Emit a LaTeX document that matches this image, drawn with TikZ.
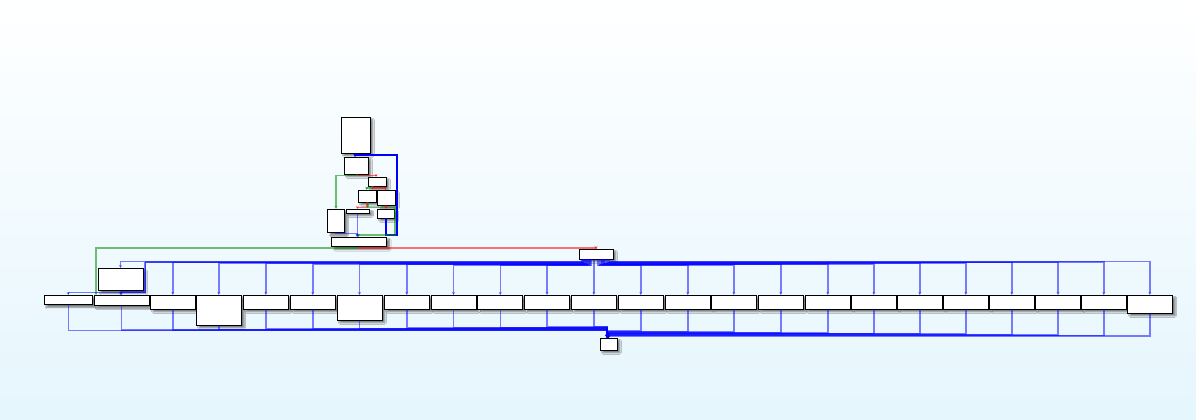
\documentclass[tikz,border=0pt]{standalone}
\usetikzlibrary{arrows.meta,shadows.blur}
\definecolor{ggreen}{RGB}{0,140,0}
\definecolor{bgtop}{RGB}{255,255,255}
\definecolor{bgbot}{RGB}{229,246,253}
\begin{document}
\begin{tikzpicture}[x=1pt,y=-1pt,
  box/.style={draw=black,line width=1pt,fill=white,inner sep=0pt,outer sep=0pt,anchor=north west,
    blur shadow={shadow xshift=2.8pt,shadow yshift=-2.8pt,shadow blur radius=1.5pt,shadow opacity=50}},
  tip/.style={-{Stealth[length=3pt,width=3pt]}},
  eb/.style={draw=blue,opacity=0.5,line width=1.5pt,tip},
  ebs/.style={draw=blue,line width=2pt,tip},
  eg/.style={draw=ggreen,opacity=0.55,line width=1.5pt,tip},
  er/.style={draw=red,opacity=0.55,line width=1.5pt,tip}]
\shade[top color=bgtop,bottom color=bgbot] (0,0) rectangle (1196,420);
\useasboundingbox (0,0) rectangle (1196,420);

% upper cluster
\node[box,minimum width=29pt,minimum height=36pt] (A) at (341,117) {};
\node[box,minimum width=24pt,minimum height=17pt] (B) at (344,157) {};
\node[box,minimum width=18pt,minimum height=9.3pt] (C) at (368,177) {};
\node[box,minimum width=18pt,minimum height=12pt] (D) at (358,190) {};
\node[box,minimum width=17.7pt,minimum height=15.3pt] (E) at (377.3,190) {};
\node[box,minimum width=16.6pt,minimum height=23.3pt] (F) at (327.7,209) {};
\node[box,minimum width=23.3pt,minimum height=4pt] (G) at (346,209) {};
\node[box,minimum width=17pt,minimum height=9pt] (H) at (377.3,209) {};
\node[box,minimum width=55pt,minimum height=9.7pt] (I) at (331.7,237) {};

% dispatcher, left blocks, final block
\node[box,minimum width=34pt,minimum height=10pt] (X) at (579,249) {};
\node[box,minimum width=45pt,minimum height=22.5pt] (J) at (98,268) {};
\node[box,minimum width=48.5pt,minimum height=9.5pt] (b1) at (44,295) {};
\node[box,minimum width=55pt,minimum height=10.3pt] (b2) at (94,295) {};
\foreach \k/\xx/\hh in {3/150.3/14,4/196.3/30,5/243.3/14,6/290.3/14,7/337/25,8/384.3/14,9/431/14,10/477.8/14,11/524.5/14,12/571.3/14,13/618.3/14,14/665.3/14,15/711.3/14,16/758.3/14,17/805.3/14,18/851.3/14,19/897.3/14,20/943.3/14,21/989.3/14,22/1035.5/14,23/1081.3/14,24/1127.3/18}
  \node[box,minimum width=45pt,minimum height=\hh pt] (b\k) at (\xx,295) {};
\node[box,minimum width=17pt,minimum height=12pt] (Z) at (600,338) {};

% cluster edges
\draw[eb] (A.south -| 355,0) -- (B.north -| 355,0);
\draw[ebs] (H.south -| 385.7,0) -- (385.7,234.5) -- (397,234.5) -- (397,155) -- (355,155) -- (B.north -| 355,0);
\draw[eg] (B.south -| 356.5,0) -- (356.5,175.7) -- (336,175.7) -- (F.north -| 336,0);
\draw[er] (B.south -| 357.5,0) -- (357.5,175.7) -- (376,175.7) -- (C.north -| 376,0);
\draw[eg] (C.south -| 372,0) -- (372,187.8) -- (366.7,187.8) -- (D.north -| 366.7,0);
\draw[er] (C.south -| 373,0) -- (373,187.8) -- (385.5,187.8) -- (E.north -| 385.5,0);
\draw[er] (D.south -| 367,0) -- (367,207.7) -- (357.3,207.7) -- (G.north -| 357.3,0);
\draw[eg] (D.south -| 368,0) -- (368,207.7) -- (395,207.7) -- (395,234.9) -- (358.5,234.9) -- (I.north -| 358.5,0);
\draw[er] (E.south -| 386,0) -- (H.north -| 386,0);
\draw[eb] (F.south -| 336,0) -- (336,233.6) -- (357,233.6) -- (I.north -| 357,0);
\draw[eb] (G.south -| 357.7,0) -- (I.north -| 357.7,0);

% exits of I
\draw[eg] (I.south -| 357,0) -- (357,248) -- (96,248) -- (b2.north -| 96,0);
\draw[er] (I.south -| 359,0) -- (359,248) -- (596,248) -- (X.north);

% dispatcher to the left blocks
\draw[eb] (X.south -| 582,0) -- (582,261.6) -| (J.north);
\draw[eb] (X.south -| 582.8,0) -- (582.8,261.96) -- (145.6,261.96) -- (145.6,292.6) -| (b1.north);
\draw[eb] (X.south -| 583.6,0) -- (583.6,262.3) -- (144.8,262.3) -- (144.8,292) -| (b2.north);
\draw[eb] (J.south) -- (J.south |- b2.north);
\foreach \k in {3,...,11}{
  \pgfmathsetmacro\lx{582+\k*0.8}
  \pgfmathsetmacro\by{261.6+\k*0.36}
  \draw[eb] (X.south -| \lx,0) -- (\lx,\by) -| (b\k.north);
}
\draw[eb] (X.south -| b12.north) -- (b12.north);
\foreach \k in {13,...,24}{
  \pgfmathsetmacro\jj{\k-13}
  \pgfmathsetmacro\lx{597.5+\jj*1.1}
  \pgfmathsetmacro\by{261.6+(11-\jj)*0.36}
  \draw[eb] (X.south -| \lx,0) -- (\lx,\by) -| (b\k.north);
}

% blocks to the final block
\foreach \k in {1,...,12}{
  \pgfmathsetmacro\by{330.5-(\k-1)*0.36}
  \draw[eb] (b\k.south) |- (607,\by) -- (Z.north -| 607,0);
}
\foreach \k in {13,...,24}{
  \pgfmathsetmacro\by{331+(\k-13)*0.45}
  \draw[eb] (b\k.south) |- (608.5,\by) -- (Z.north -| 608.5,0);
}
\end{tikzpicture}
\end{document}
